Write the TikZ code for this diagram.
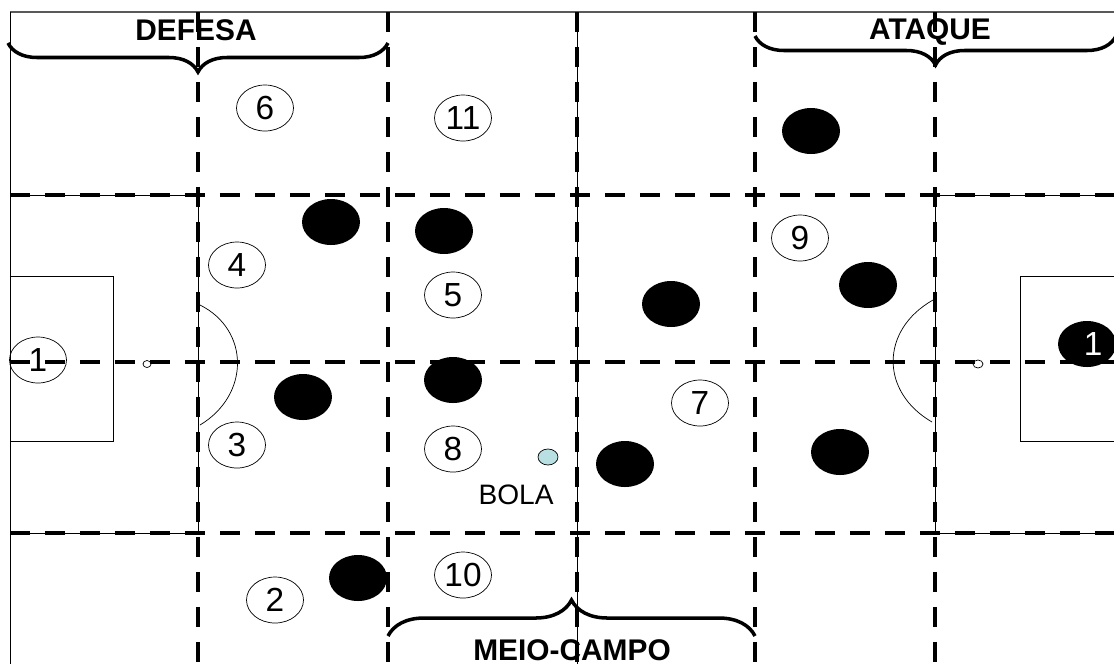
\documentclass[tikz,border=0pt]{standalone}
\usepackage{fontspec}
\setmainfont{Liberation Sans}
\usetikzlibrary{shapes.geometric, decorations.pathreplacing}
\definecolor{bolacolor}{RGB}{184,224,226}
\tikzset{
  player/.style={ellipse, draw, thin, minimum width=1.14cm, minimum height=0.92cm, inner sep=0pt, font=\fontsize{19}{22}\selectfont},
  rival/.style={ellipse, fill=black, minimum width=1.16cm, minimum height=0.92cm, inner sep=0pt, text=white, font=\fontsize{19}{22}\selectfont},
  zone/.style={line width=2.5pt, dash pattern=on 0.4cm off 0.3cm},
  bracket/.style={line width=2pt, decorate, decoration={brace, amplitude=#1}},
  zonelabel/.style={anchor=base, font=\bfseries\fontsize{17}{20}\selectfont},
}
\begin{document}
\begin{tikzpicture}[x=0.02cm, y=-0.02cm]
    \useasboundingbox (0,0) rectangle (1114,664);

    % Field outline
    \draw[gray!70!black, line width=0.9pt] (10,12) -- (1114,12);
    \draw[thin] (10,12) -- (10,664);
    \draw[thin] (577,12) -- (577,664);

    % Penalty areas, goal areas and arcs
    \draw[thin] (10,195) rectangle (198,533);
    \draw[thin] (10,276) rectangle (113,441);
    \draw[thin] (935,195) rectangle (1120,533);
    \draw[thin] (1020,276) rectangle (1120,441);
    \draw[thin] (200,305) .. controls (250,330) and (250,395) .. (200,425);
    \draw[thin] (933,300) .. controls (880,330) and (880,392) .. (932,422);
    \draw[thin, fill=white] (147,364) ellipse (4 and 3.5);
    \draw[thin, fill=white] (978,364) ellipse (5 and 4);

    % Team (white)
    \node[player] (p1) at (38,360) {1};
    \node[player] (p2) at (275,600) {2};
    \node[player] (p3) at (237,445) {3};
    \node[player] (p4) at (237,265) {4};
    \node[player] (p5) at (453,295) {5};
    \node[player] (p6) at (265,108) {6};
    \node[player] (p7) at (700,403) {7};
    \node[player] (p8) at (453,449) {8};
    \node[player] (p9) at (800,238) {9};
    \node[player] (p10) at (463,575) {10};
    \node[player] (p11) at (463,118) {11};

    % Opponents (black)
    \node[rival] (r1) at (1087,344) {\hspace*{0.25cm}1};
    \node[rival] (r2) at (331,222) {};
    \node[rival] (r3) at (444,231) {};
    \node[rival] (r4) at (303,397) {};
    \node[rival] (r5) at (453,380) {};
    \node[rival] (r6) at (671,304) {};
    \node[rival] (r7) at (625,464) {};
    \node[rival] (r8) at (358,578) {};
    \node[rival] (r9) at (811,131) {};
    \node[rival] (r10) at (868,285) {};
    \node[rival] (r11) at (840,452) {};

    % Ball
    \node[ellipse, draw, thin, fill=bolacolor, minimum width=0.4cm, minimum height=0.32cm, inner sep=0pt] (bola) at (548,457) {};
    \node[font=\fontsize{16}{19}\selectfont] (bolatxt) at (516,495) {BOLA};

    % Zones
    \draw[bracket=0.58cm] (388,43) -- (8,43);
    \node[zonelabel] (defesa) at (196,40) {DEFESA};
    \draw[bracket=0.58cm] (1116,36) -- (755,36);
    \node[zonelabel] (ataque) at (930,39) {ATAQUE};
    \draw[bracket=0.72cm] (388,636) -- (755,636);
    \node[zonelabel] (meio) at (572,660) {MEIO-CAMPO};

    % Grid
    \foreach \x in {198,388,577,755,935}
        \draw[zone] (\x,12) -- (\x,664);
    \foreach \y in {195,362,533}
        \draw[zone] (10,\y) -- (1114,\y);
\end{tikzpicture}
\end{document}
